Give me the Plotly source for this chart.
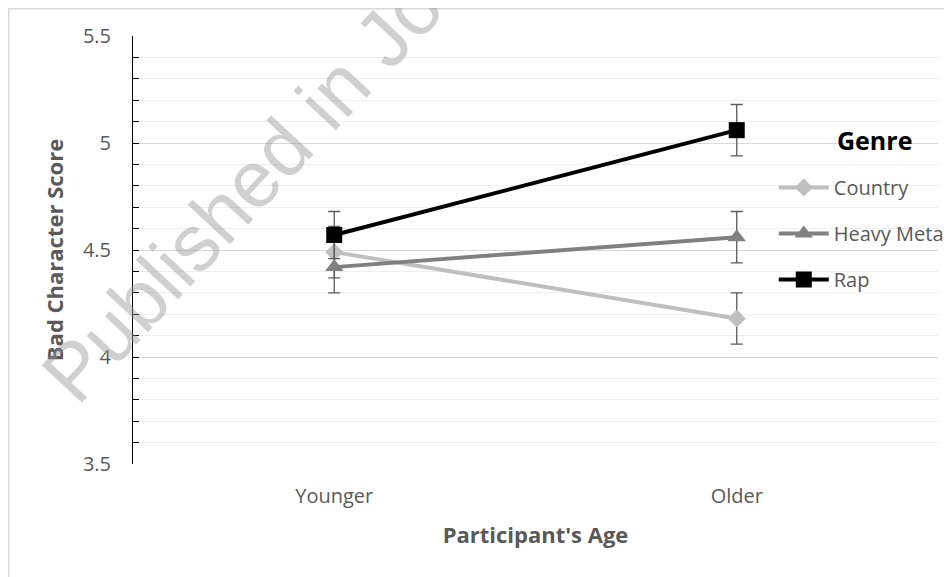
import plotly.graph_objects as go

categories = ["Younger", "Older"]
genres = ["Country", "Heavy Metal", "Rap"]
country = [4.49, 4.18]
heavy_metal = [4.42, 4.56]
rap = [4.57, 5.06]
country_err = [0.12, 0.12]
heavy_metal_err = [0.12, 0.12]
rap_err = [0.11, 0.12]

values = [country, heavy_metal, rap]
errors = [country_err, heavy_metal_err, rap_err]
colors = ["#bfbfbf", "#808080", "#000000"]
symbols = ["diamond", "triangle-up", "square"]
sizes = [14, 16, 16]

fig = go.Figure()
for name, vals, errs, col, sym, sz in zip(genres, values, errors, colors, symbols, sizes):
    fig.add_trace(go.Scatter(
        x=categories, y=vals, name=name, mode="lines+markers",
        legendgroup=name,
        line=dict(color=col, width=4),
        marker=dict(symbol=sym, size=sz, color=col, line=dict(width=0)),
        error_y=dict(type="data", array=errs, visible=True, color="#595959",
                     thickness=1.3, width=6),
    ))

font_family = "Open Sans, Noto Sans, sans-serif"
fig.update_layout(
    width=944, height=569,
    margin=dict(l=125, r=14, t=28, b=113, autoexpand=False),
    paper_bgcolor="white", plot_bgcolor="white",
    font=dict(family=font_family, size=20, color="#595959"),
    showlegend=True,
    legend=dict(x=0.796, y=0.6916, xanchor="left", yanchor="top",
                bgcolor="rgba(0,0,0,0)", tracegroupgap=17,
                font=dict(size=20, color="#595959"), itemwidth=50),
    xaxis=dict(range=[-0.5, 1.5], showgrid=False, showline=False, ticks="",
               ticklabelstandoff=18, zeroline=False, automargin=False,
               tickfont=dict(size=20),
               title=dict(text="<b>Participant's Age</b>", standoff=19,
                          font=dict(size=22, color="#595959"))),
    yaxis=dict(range=[3.5, 5.5], dtick=0.5, tick0=3.5, showline=True,
               linecolor="black", linewidth=1, ticks="inside", ticklen=6,
               tickcolor="black", gridcolor="#d9d9d9", gridwidth=1,
               zeroline=False, ticklabelstandoff=17, automargin=False,
               tickfont=dict(size=20),
               minor=dict(dtick=0.1, ticks="inside", ticklen=6, tickcolor="black",
                          showgrid=True, gridcolor="#eeeeee", gridwidth=1),
               title=dict(text="<b>Bad Character Score</b>", standoff=13,
                          font=dict(size=22, color="#595959"))),
)

fig.add_annotation(text="<b>Genre</b>", xref="paper", yref="paper",
                   x=0.872, y=0.757, xanchor="left", yanchor="middle",
                   showarrow=False, font=dict(size=25, color="black", family=font_family))

fig.add_shape(type="rect", xref="paper", yref="paper",
              x0=-0.1544, y0=-0.4, x1=1.1, y1=1.0637,
              line=dict(color="#d9d9d9", width=1.5), layer="below")

fig.add_annotation(text="Published in Journal", xref="paper", yref="paper",
                   x=0.2112, y=0.7907, xanchor="center", yanchor="middle",
                   textangle=-47, showarrow=False,
                   font=dict(size=80, color="rgba(150,150,150,0.45)",
                             family="Liberation Sans, Arial, sans-serif"))

fig.write_html("out.html")
